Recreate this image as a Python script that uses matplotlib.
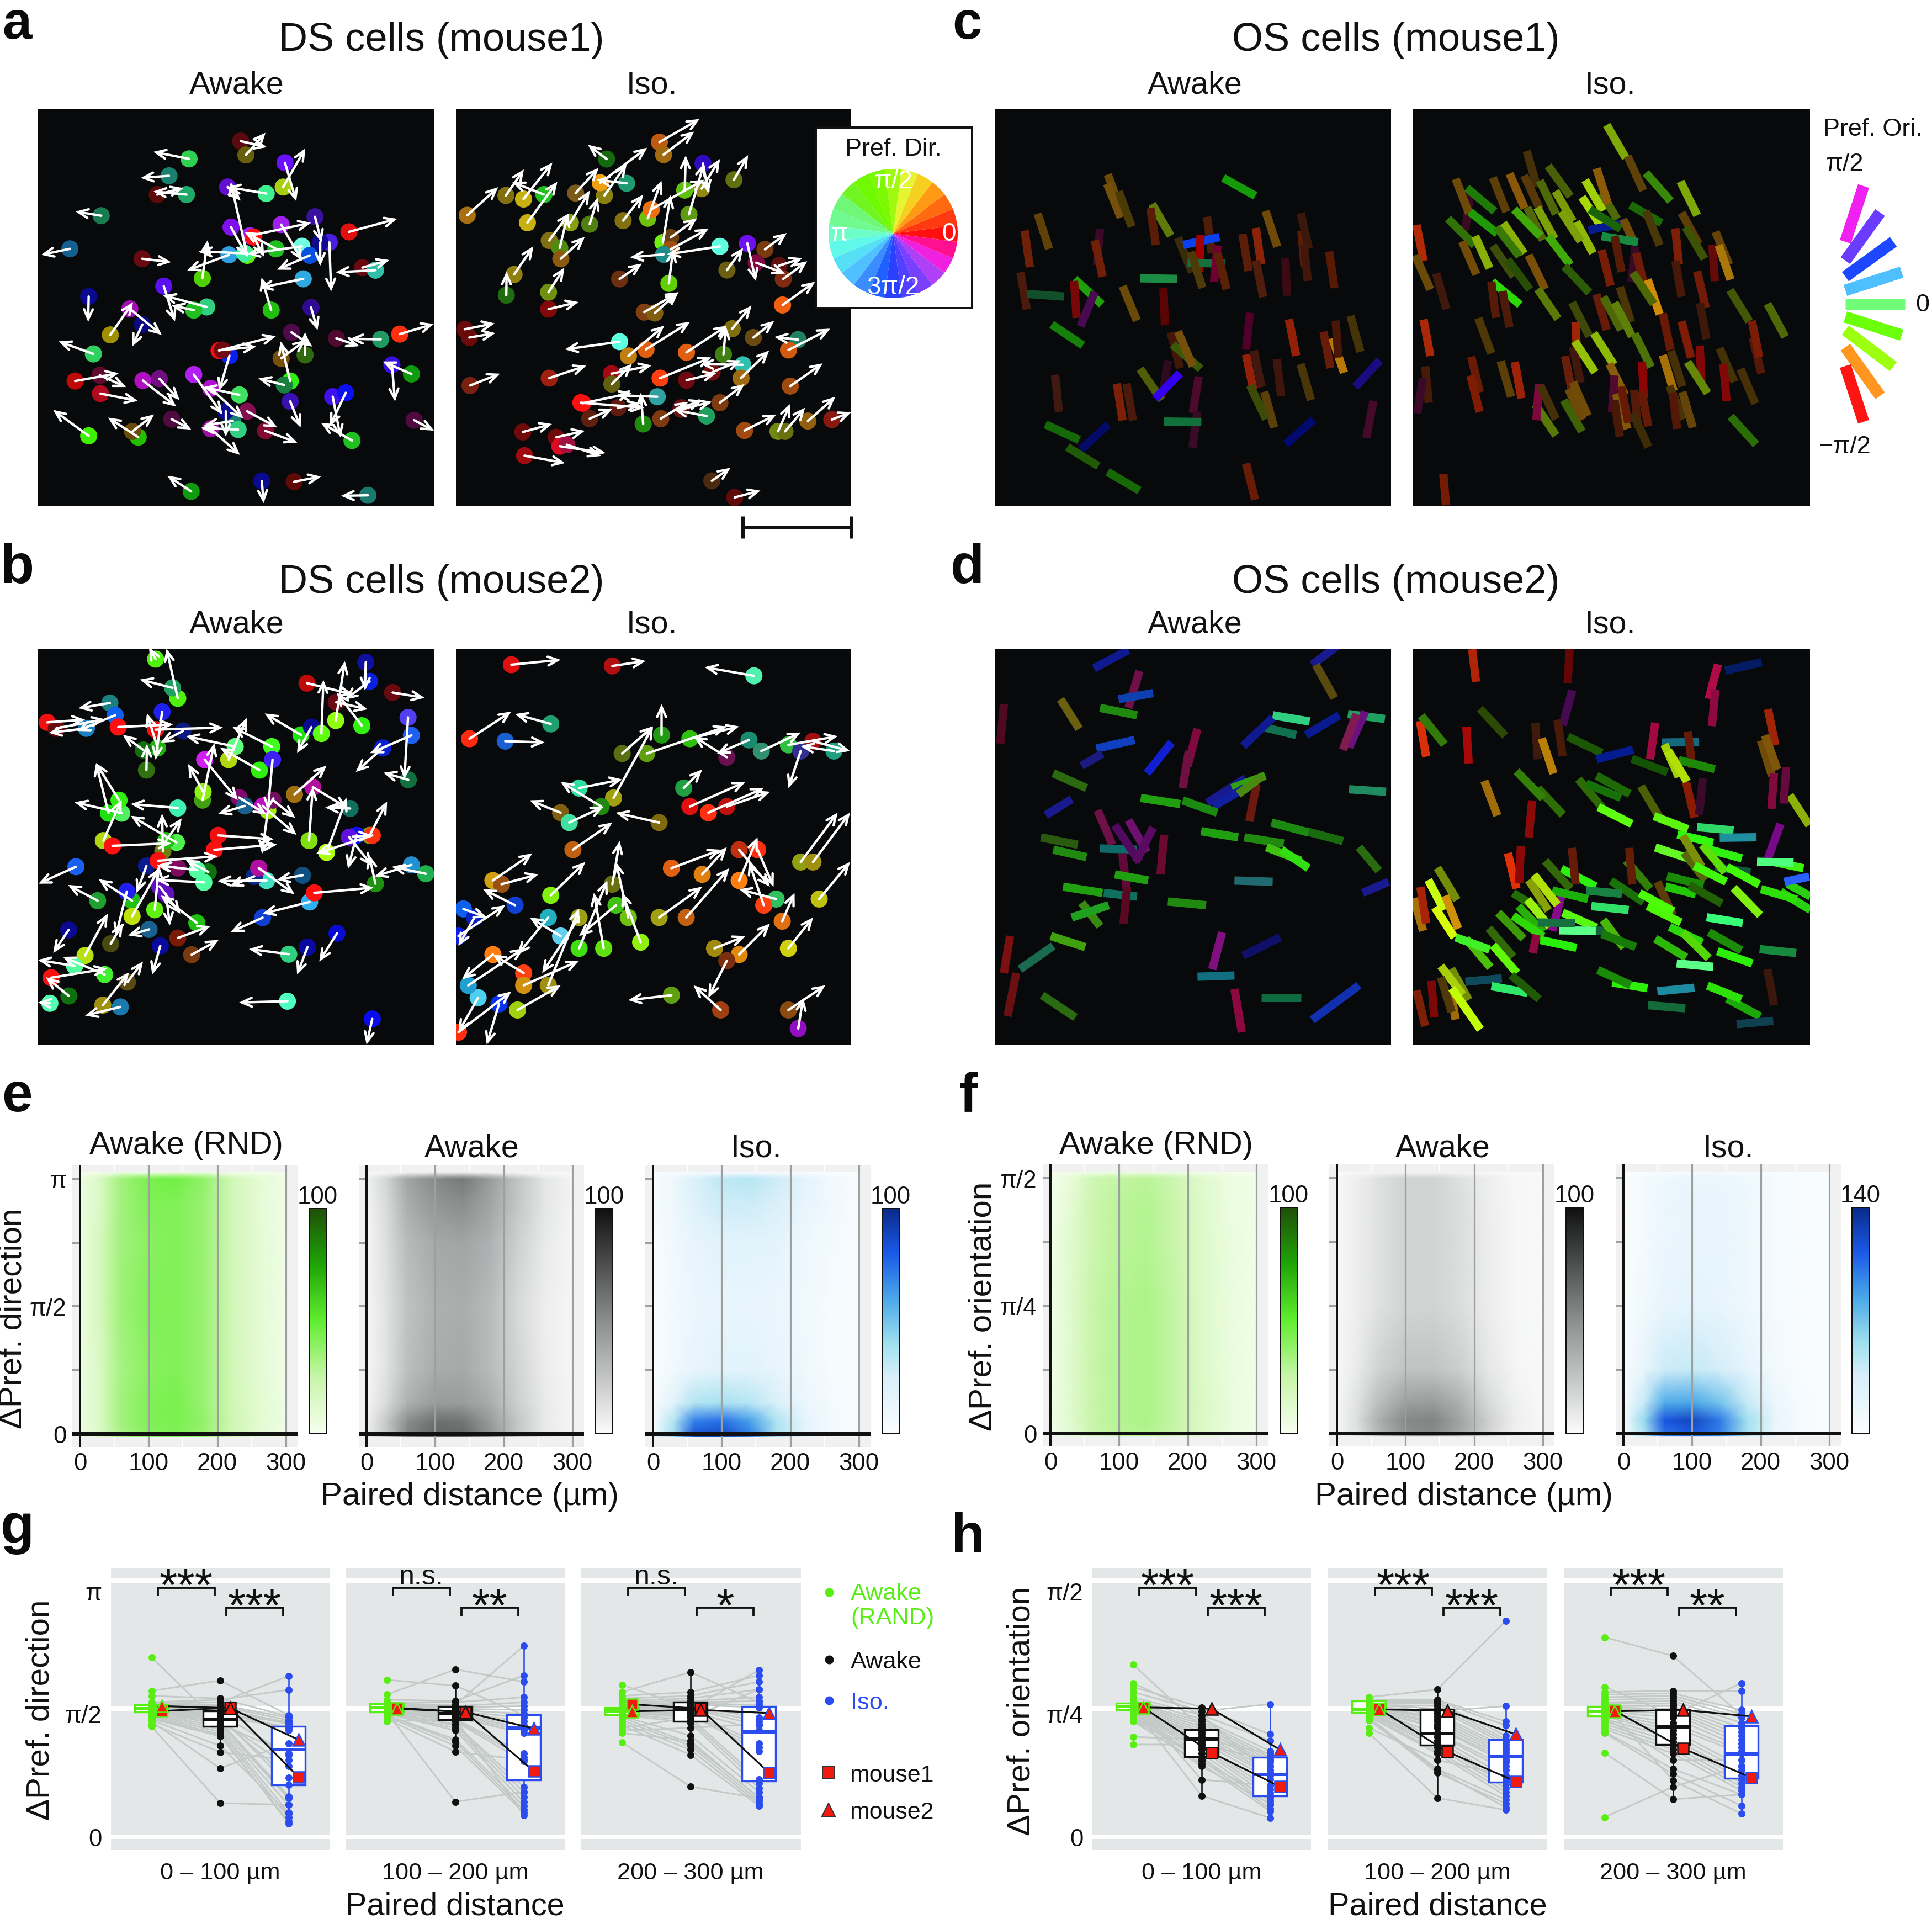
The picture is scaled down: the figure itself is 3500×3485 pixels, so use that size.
import numpy as np
import matplotlib
matplotlib.use('Agg')
import matplotlib.pyplot as plt
from matplotlib.colors import LinearSegmentedColormap
from matplotlib.patches import FancyArrowPatch, Rectangle
from matplotlib.cm import ScalarMappable
from matplotlib.colors import Normalize

plt.rcParams['font.family'] = ['Liberation Sans', 'DejaVu Sans']
W, H = 3500, 3486
DPI = 300
PX = 72 / DPI  # points per pixel

# ---------- arrows of direction-selective cells: x0, y0, x1, y1, colour ----------
A_AWAKE = [
(795,142,895,165,'#5c0a12'),(815,195,890,110,'#66600a'),(597,210,460,183,'#30d050'),(520,275,412,283,'#1a8070'),
(587,347,460,335,'#20a868'),(475,347,575,322,'#5a0a08'),(260,428,162,412,'#1a7a50'),(140,555,30,578,'#156090'),
(965,225,1008,372,'#6a10ff'),(958,318,1043,170,'#a8d010'),(893,343,745,318,'#40f090'),(745,318,795,370,'#6010d0'),
(820,580,757,300,'#60f010'),(758,472,820,585,'#8010f0'),(950,462,1030,600,'#a020f0'),(1080,432,1105,530,'#3a10a0'),
(830,505,1065,455,'#a020f0'),(930,555,810,490,'#20c020'),(1030,545,820,575,'#70ffe0'),(750,578,590,638,'#30a0e0'),
(810,572,635,565,'#40f0a0'),(845,510,885,585,'#ff1010'),(1060,580,935,635,'#0850e0'),(1135,530,1142,718,'#4a20e0'),
(1100,530,1100,620,'#100a90'),(1210,490,1395,440,'#e01010'),(1262,627,1365,598,'#6a0a10'),(1312,637,1160,645,'#30c0a8'),
(1035,670,868,705,'#30a8e0'),(912,790,875,665,'#20c010'),(417,593,528,606,'#6a0a10'),(648,668,668,522,'#50d000'),
(500,698,543,833,'#5a10f0'),(665,778,497,733,'#30d080'),(615,790,530,772,'#20c020'),(212,738,210,835,'#0a0a90'),
(295,885,382,760,'#a09000'),(370,785,492,885,'#a010b0'),(418,845,378,930,'#0a0a80'),(1065,780,1090,867,'#300a90'),
(990,875,1070,930,'#500a4a'),(1162,898,1250,928,'#500a30'),(1332,902,1215,900,'#209a60'),(1405,882,1536,843,'#ff3010'),
(230,958,97,910,'#30d060'),(160,1062,327,1032,'#c00a0a'),(255,1040,355,1085,'#600a30'),(257,1110,400,1138,'#b00a20'),
(420,1060,548,1160,'#b010c0'),(483,1053,560,1135,'#701080'),(615,1037,725,1190,'#b020f0'),(790,1115,652,1085,'#40e060'),
(680,1090,805,1205,'#b010d0'),(752,965,712,1100,'#0a20f0'),(712,945,930,890,'#f01010'),(725,943,855,930,'#700a10'),
(950,975,1045,905,'#7a5008'),(1042,962,1042,875,'#306a10'),(985,1062,948,910,'#30f010'),(962,1077,863,1052,'#1a8040'),
(985,1140,1025,1240,'#3a10b0'),(1148,1122,1178,1278,'#4010f0'),(1198,1107,1137,1235,'#0a10f0'),(1222,1290,1103,1222,'#20c020'),
(1450,1035,1340,987,'#109a10'),(1375,1000,1387,1140,'#3a10e0'),(1460,1212,1536,1252,'#500a40'),(212,1272,76,1173,'#40f000'),
(402,1277,286,1202,'#20c000'),(380,1255,463,1190,'#6a4a08'),(530,1208,605,1248,'#500a40'),(765,1215,655,1232,'#1a8070'),
(785,1248,642,1242,'#30d080'),(738,1178,738,1275,'#0a0a90'),(680,1245,792,1345,'#a010a0'),(820,1178,935,1240,'#801050'),
(890,1253,1012,1298,'#800a30'),(605,1485,514,1425,'#109a10'),(876,1445,883,1530,'#0a0a90'),(1000,1448,1103,1428,'#600a08'),
(1283,1500,1180,1502,'#1a7a70'),
]
A_ISO = [
(618,148,732,70,'#c05a10'),(630,190,717,112,'#a06a10'),(468,205,415,157,'#156a10'),(380,320,445,235,'#7a5a18'),
(72,395,160,300,'#a87010'),(182,328,233,240,'#807010'),(232,340,314,217,'#c8b010'),(290,325,200,283,'#20c020'),
(243,420,328,282,'#c8b010'),(305,480,362,388,'#807010'),(365,420,420,312,'#88a010'),(335,505,358,390,'#508a10'),
(420,425,443,335,'#508010'),(338,542,406,468,'#8a5a10'),(205,595,260,500,'#908010'),(183,665,184,585,'#206a10'),
(303,655,348,572,'#709010'),(303,712,388,688,'#800a0a'),(515,413,572,325,'#807010'),(462,328,525,222,'#8a8010'),
(450,285,583,167,'#f0a010'),(525,287,440,275,'#209a70'),(585,405,624,278,'#70c010'),(595,375,745,275,'#f07010'),
(690,310,693,193,'#60c010'),(702,392,745,220,'#609a10'),(738,305,790,205,'#908a10'),(742,220,757,320,'#300ac0'),
(830,275,870,192,'#607010'),(628,487,650,327,'#70f010'),(650,470,725,405,'#6a4010'),(650,510,758,440,'#a05010'),
(790,500,640,527,'#60ffe0'),(630,527,535,537,'#208a8a'),(645,625,657,510,'#60d000'),(505,610,568,558,'#6a3010'),
(810,580,856,505,'#6a6010'),(868,490,892,617,'#7010f0'),(918,510,980,455,'#7a3a10'),(893,555,975,592,'#800a40'),
(958,565,1024,540,'#601010'),(970,610,1038,550,'#802a10'),(968,698,1060,620,'#f06010'),(575,722,673,655,'#804010'),
(605,725,672,655,'#806010'),(65,780,150,760,'#6a0a0a'),(78,808,152,793,'#6a0a0a'),(825,778,880,700,'#807010'),
(885,808,944,752,'#6a4a10'),(1012,815,945,806,'#208060'),(985,850,1103,778,'#d05a10'),(505,822,350,848,'#60ffe0'),
(530,870,632,768,'#c08010'),(580,848,705,755,'#e06010'),(695,858,810,768,'#e06010'),(800,865,807,770,'#408010'),
(855,900,735,898,'#30c0b0'),(620,945,765,875,'#ff4010'),(695,952,780,928,'#700a10'),(768,925,850,885,'#701010'),
(850,945,930,852,'#a06a10'),(990,972,1082,895,'#a04a10'),(305,945,410,903,'#a02010'),(80,970,165,930,'#7a2010'),
(482,930,596,902,'#a00a10'),(483,965,540,897,'#606010'),(395,1028,575,1045,'#ff1010'),(400,1030,540,995,'#ff1010'),
(500,1045,565,1030,'#601a10'),(612,1008,495,1003,'#30a0a0'),(420,1082,485,1048,'#602010'),(572,1100,565,995,'#208a10'),
(622,1082,700,1025,'#803a10'),(680,1050,767,1025,'#6a2010'),(680,1045,740,1020,'#6a1010'),(790,1028,860,965,'#803a10'),
(752,1073,660,1052,'#20a060'),(860,1122,950,1068,'#a04a10'),(955,1125,990,1032,'#708a10'),(975,1125,1032,1045,'#6a7010'),
(1040,1090,1118,1008,'#906010'),(1108,1085,1163,1060,'#8a1a10'),(230,1127,313,1100,'#700a0a'),(325,1145,406,1123,'#700a0a'),
(335,1175,465,1198,'#e00a20'),(355,1170,452,1208,'#a01040'),(235,1207,350,1232,'#a00a10'),(767,1292,820,1248,'#4a2a10'),
(832,1348,905,1325,'#600a0a'),
]
B_AWAKE = [
(470,60,445,15,'#50f010'),(555,210,512,20,'#50f010'),(535,170,410,138,'#20a060'),(295,228,175,248,'#1a8080'),
(315,275,170,335,'#1060f0'),(55,302,200,292,'#f01010'),(90,325,275,290,'#6a0a10'),(205,325,62,342,'#1a80c0'),
(327,320,537,310,'#ff1010'),(495,262,470,445,'#2020f0'),(470,330,728,322,'#f01010'),(478,400,437,268,'#20b010'),
(575,335,490,380,'#0a1a80'),(423,408,345,350,'#107010'),(435,485,437,385,'#307010'),(775,395,587,355,'#60ff80'),
(915,395,765,320,'#40ff20'),(750,445,820,285,'#b0d810'),(868,485,718,400,'#30f010'),(1027,350,888,268,'#20e010'),
(1067,320,1012,420,'#0a0a90'),(1105,345,1113,140,'#60ff10'),(1160,295,1195,68,'#90ff10'),(1260,315,1165,190,'#30f010'),
(1050,152,1225,195,'#c00a0a'),(1162,225,1282,252,'#6a0a10'),(1290,145,1195,215,'#0a20e0'),(1275,72,1272,180,'#1010a0'),
(1378,188,1500,208,'#6a0a10'),(1437,283,1423,520,'#5040f0'),(1450,352,1292,420,'#2060f0'),(1340,400,1237,492,'#0a20d0'),
(1438,522,1343,495,'#107040'),(658,445,785,600,'#d020f0'),(650,600,695,382,'#40a010'),(652,568,595,462,'#90f010'),
(918,445,900,640,'#4020f0'),(1002,578,1125,468,'#a07010'),(1072,550,1205,630,'#b010a0'),(1058,755,1072,550,'#80e010'),
(1125,800,1202,592,'#b0ff10'),(1215,632,1120,628,'#107060'),(1290,735,1357,605,'#90a010'),(1300,735,1085,805,'#ff3010'),
(1225,740,1300,735,'#6010e0'),(1240,735,1207,862,'#1010f0'),(1212,742,1300,852,'#6010e0'),(900,640,878,805,'#a0f010'),
(880,622,1010,733,'#c010c0'),(790,590,895,655,'#800a70'),(812,622,710,652,'#1a6090'),(920,600,1005,668,'#701060'),
(710,735,922,750,'#f01010'),(695,790,935,770,'#ff1010'),(340,650,160,608,'#50f060'),(555,630,375,615,'#40f0b0'),
(550,762,375,660,'#50f050'),(270,755,340,598,'#b0d810'),(290,650,242,458,'#20e010'),(330,600,242,458,'#30f010'),
(498,795,495,652,'#708010'),(305,775,530,765,'#ff1010'),(510,755,570,670,'#20c010'),(165,855,22,920,'#1a60f0'),
(248,985,135,925,'#20a030'),(380,985,252,903,'#20c010'),(360,950,318,1120,'#2020f0'),(435,852,397,955,'#0a1a90'),
(480,832,708,815,'#ff1010'),(555,860,480,848,'#800a60'),(672,875,585,828,'#107010'),(655,915,470,905,'#50ffa0'),
(630,868,475,850,'#50ffa0'),(485,930,565,1035,'#6010c0'),(467,1020,483,850,'#60f010'),(380,1045,485,860,'#c0e010'),
(628,1070,490,965,'#20c010'),(510,960,525,1080,'#6010c0'),(445,1095,365,1118,'#1a6090'),(555,1128,680,1082,'#7a1a08'),
(608,1192,712,1135,'#7a3a10'),(488,1158,457,1268,'#0a0aa0'),(298,1150,345,1072,'#4a4a10'),(200,1195,287,1035,'#b8e010'),
(137,1097,78,1185,'#0a0a90'),(160,1235,20,1212,'#50ffa0'),(275,1268,115,1200,'#40f030'),(70,1280,285,1245,'#ff1010'),
(138,1350,50,1278,'#107010'),(65,1378,20,1375,'#50ffb0'),(268,1385,368,1260,'#a09010'),(362,1297,422,1218,'#5a4a10'),
(335,1392,200,1425,'#1a7ab0'),(975,1370,790,1375,'#50ffc0'),(980,1190,828,1170,'#30d080'),(1052,1163,1012,1268,'#0a0aa0'),
(1165,1110,1097,1218,'#0a0ad0'),(1300,1438,1278,1536,'#0a0af0'),(880,1050,758,1105,'#1040d0'),(1060,990,880,1035,'#30b0f0'),
(1078,955,1305,935,'#ff1010'),(1033,888,935,905,'#105080'),(895,908,708,910,'#40e0c0'),(848,892,755,930,'#0a2a90'),
(865,860,1002,960,'#b010a0'),(1312,920,1288,810,'#209010'),(1450,848,1310,892,'#2090d0'),(1505,882,1375,855,'#20b050'),
]
B_ISO = [
(415,540,455,536,'#e01010'),(497,541,524,537,'#b01010'),(612,549,572,542,'#50f0b0'),(381,600,415,578,'#ff2a10'),
(410,602,442,603,'#1a60d0'),(447,588,418,580,'#20a070'),(505,612,530,590,'#5a7010'),(498,648,530,590,'#a0a010'),
(525,612,590,590,'#60a010'),(537,597,537,572,'#209a10'),(560,600,600,590,'#30c010'),(590,615,563,598,'#6a1050'),
(608,601,582,612,'#1a8a70'),(618,610,650,595,'#309070'),(640,605,680,598,'#30c040'),(660,602,690,610,'#a01010'),
(677,610,650,606,'#20a080'),(650,610,640,640,'#303090'),(470,640,505,633,'#30e0a0'),(555,640,570,625,'#20a040'),
(560,655,605,635,'#e01010'),(590,655,625,643,'#c01010'),(488,655,455,635,'#208a10'),(455,660,430,650,'#806010'),
(462,668,490,655,'#40e0a0'),(535,668,500,660,'#806a10'),(400,715,432,693,'#d0a010'),(407,718,437,710,'#9a5010'),
(447,727,475,700,'#80f010'),(465,690,497,668,'#c06010'),(497,718,503,683,'#6a7010'),(376,738,395,745,'#1060f0'),
(385,745,372,768,'#0a20c0'),(400,775,375,795,'#ff8010'),(388,810,372,838,'#50d0f0'),(420,820,455,800,'#a0d010'),
(405,815,395,848,'#0a30f0'),(445,800,470,738,'#a09010'),(470,770,493,715,'#40e010'),(490,770,482,725,'#60e010'),
(520,765,505,725,'#90f010'),(445,745,420,775,'#20b0c0'),(535,745,570,720,'#a0a010'),(557,745,592,705,'#c06010'),
(570,710,590,688,'#e08010'),(600,715,615,680,'#ff8010'),(635,748,645,725,'#e07010'),(640,770,660,745,'#d0d010'),
(640,820,670,800,'#8a4a10'),(648,835,652,810,'#9010c0'),(585,820,563,800,'#a04010'),(545,808,510,812,'#60a010'),
(580,770,605,760,'#a08a10'),(600,775,625,750,'#e08a10'),(630,730,600,722,'#30c060'),(665,730,690,700,'#c0c010'),
(650,700,680,660,'#90a010'),(545,705,585,690,'#e06010'),(615,690,628,720,'#ff3010'),(418,735,392,722,'#1040d0'),
(425,790,400,775,'#ff4010'),(455,760,430,745,'#60d0f0'),(500,735,470,760,'#40c010'),(590,780,575,810,'#7a3010'),
(372,838,415,805,'#ff3010'),(380,800,425,770,'#20a0d0'),(372,760,410,735,'#0a20e0'),(470,745,440,790,'#a0a010'),
(510,745,500,700,'#70c010'),(575,660,620,640,'#ff3010'),(620,735,608,700,'#ff4010'),(600,690,625,720,'#c03010'),
(660,700,690,660,'#a09010'),(425,800,470,780,'#d09010'),
]
# ---------- bars of orientation-selective cells: x0, y0, x1, y1, colour ----------
C_AWAKE = [
(882,283,1006,352,'#159a0a'),(438,270,486,400,'#6b4a08'),(435,305,488,435,'#74500a'),(480,335,530,470,'#4a3a06'),
(608,383,680,505,'#5f7a08'),(602,398,623,540,'#5a1c08'),(168,420,212,555,'#5f4208'),(118,485,138,625,'#6e2008'),
(408,478,396,618,'#3a0a28'),(388,522,418,662,'#701f08'),(708,512,762,645,'#3a2c0a'),(820,432,838,572,'#4d1e08'),
(728,540,868,510,'#0a40f0'),(795,502,790,642,'#a00000'),(745,608,888,612,'#15703e'),(860,542,847,682,'#700030'),
(860,570,895,710,'#5a2008'),(758,566,802,705,'#4e3a08'),(956,498,980,640,'#5c1e08'),(1008,475,1028,615,'#8a2408'),
(1045,410,1090,547,'#6e4a08'),(1183,485,1195,625,'#5a1c06'),(1180,418,1212,555,'#3c180c'),(1192,538,1208,678,'#42160a'),
(1290,565,1310,705,'#581a04'),(1121,592,1128,735,'#3c0a14'),(1008,600,1036,740,'#501e0c'),(102,645,126,787,'#4a1a0c'),
(128,728,270,738,'#12502a'),(310,670,415,768,'#20a008'),(308,678,318,820,'#780808'),(388,720,333,852,'#480a50'),
(562,668,704,670,'#1c8c44'),(495,698,550,830,'#6a4a08'),(652,706,658,848,'#5a0404'),(222,845,342,925,'#15800a'),
(680,875,716,1012,'#441808'),(688,922,795,1015,'#3a5a08'),(708,872,765,1005,'#74500a'),(985,800,970,942,'#500028'),
(1135,825,1163,965,'#942008'),(1268,873,1295,1012,'#661c08'),(1302,897,1347,1030,'#b87808'),(1315,830,1325,972,'#4a1608'),
(1372,812,1410,950,'#443408'),(970,960,998,1095,'#942008'),(1000,945,1030,1085,'#401810'),(1088,978,1105,1120,'#3e160c'),
(1180,997,1220,1135,'#4a3608'),(1485,982,1390,1085,'#1c0a80'),(670,982,648,1122,'#2e0a20'),(562,1015,645,1135,'#505e08'),
(716,1032,620,1130,'#3400f0'),(235,1038,250,1180,'#401a0e'),(788,1045,765,1185,'#4e0a2c'),(473,1072,495,1213,'#7e2008'),
(510,1072,535,1213,'#4a1a0a'),(1040,1103,1078,1240,'#5c400a'),(985,1078,1047,1208,'#3c4c08'),(1460,1138,1433,1280,'#440a28'),
(783,1178,764,1318,'#380c24'),(655,1217,798,1219,'#12703a'),(198,1228,328,1288,'#156808'),(440,1228,335,1325,'#040a66'),
(1230,1210,1122,1305,'#020a70'),(282,1315,402,1388,'#205a06'),(437,1410,560,1482,'#186806'),(970,1378,1005,1517,'#681c08'),
]
C_ISO = [
(765,78,838,205,'#7ea808'),(845,198,905,330,'#5c4208'),(915,262,1010,370,'#38880a'),(1048,295,1112,425,'#7ea808'),
(458,178,497,315,'#46300a'),(540,235,625,352,'#4a6008'),(240,345,222,482,'#3a0a22'),(228,320,335,410,'#1f7a08'),
(185,285,237,418,'#6e4a08'),(328,280,380,412,'#5c3e08'),(392,265,450,398,'#885808'),(448,272,508,400,'#56380a'),
(508,292,570,420,'#4e6a08'),(568,332,635,448,'#7a9a08'),(745,340,805,440,'#4e6a08'),(682,290,750,408,'#a0d008'),
(726,245,770,382,'#8a5c08'),(670,355,740,462,'#a8d808'),(695,482,832,455,'#041c90'),(828,440,870,530,'#704c08'),
(700,402,818,478,'#186406'),(855,385,975,455,'#1c6a06'),(915,408,968,540,'#4a3808'),(1052,415,1118,535,'#5c3e08'),
(1068,470,1140,592,'#3e5206'),(1028,475,1042,615,'#7e2008'),(1182,488,1235,615,'#644408'),(1170,538,1180,678,'#640a08'),
(1195,540,1240,672,'#aa7808'),(240,412,345,495,'#1f9a08'),(156,438,258,540,'#327008'),(460,395,520,520,'#506808'),
(410,402,510,505,'#40a808'),(498,395,565,515,'#7ca008'),(368,455,448,572,'#88b008'),(342,470,430,582,'#387a08'),
(35,462,62,600,'#b02a08'),(260,505,315,628,'#88b008'),(210,525,265,652,'#704c08'),(328,542,408,660,'#3c4e08'),
(385,595,470,710,'#284e06'),(465,578,528,708,'#7a5008'),(648,450,712,570,'#90b808'),(590,410,665,525,'#7ca008'),
(540,505,625,615,'#40aa08'),(745,505,885,528,'#188a40'),(795,505,822,642,'#581c06'),(745,558,780,695,'#781e08'),
(875,545,860,680,'#380a28'),(878,570,912,705,'#6e1c08'),(602,620,698,722,'#2c5c06'),(30,578,88,710,'#6a4a08'),
(110,648,150,785,'#40180c'),(325,680,432,768,'#2cd808'),(322,680,340,818,'#581a08'),(365,716,392,855,'#4e1a0a'),
(500,708,578,822,'#5c7a08'),(922,672,968,805,'#d08c08'),(865,645,945,765,'#4e6808'),(725,728,765,865,'#661c08'),
(815,700,858,835,'#4a3408'),(752,738,820,865,'#4e6808'),(795,760,862,890,'#5e8008'),(632,760,698,890,'#3e4808'),
(1028,600,1052,738,'#481808'),(1112,640,1145,780,'#701c08'),(1122,762,1148,900,'#3e1808'),(1238,712,1312,832,'#425806'),
(1382,765,1450,892,'#4e6a08'),(1325,895,1358,1032,'#541808'),(1322,830,1350,970,'#7a1c08'),(62,825,88,965,'#a82808'),
(272,820,322,955,'#4e3808'),(980,802,1010,942,'#681a06'),(1052,832,1088,972,'#7e1c08'),(645,835,652,975,'#a02408'),
(715,878,792,998,'#8cb808'),(872,880,935,1008,'#4c7208'),(635,930,665,1068,'#40180c'),(642,908,720,1028,'#94c008'),
(1198,935,1255,1065,'#463008'),(1122,925,1128,1065,'#820808'),(1278,1015,1335,1148,'#463008'),(980,962,1022,1100,'#a87008'),
(1012,945,1055,1082,'#463008'),(1075,988,1152,1108,'#668808'),(1212,995,1225,1138,'#820808'),(68,1005,82,1145,'#481a08'),
(60,1050,38,1185,'#3a0a28'),(245,968,278,1105,'#681c08'),(358,985,398,1122,'#5c4008'),(412,988,438,1128,'#9c2208'),
(242,1040,277,1180,'#7e1c04'),(605,965,632,1105,'#681e08'),(775,995,835,1115,'#885c08'),(490,1150,570,1270,'#587808'),
(505,1072,495,1212,'#7c083c'),(510,1078,570,1208,'#463008'),(600,1135,670,1255,'#3e6206'),(618,1092,672,1210,'#6e4a08'),
(635,1065,692,1195,'#704c08'),(795,1040,785,1180,'#500a30'),(800,1110,845,1245,'#805808'),(900,988,908,1128,'#8c0404'),
(820,1082,848,1222,'#641a06'),(870,1095,885,1240,'#561a08'),(898,1100,925,1235,'#641a06'),(795,1135,815,1275,'#481808'),
(865,1185,925,1315,'#3e2c08'),(1005,1080,1060,1208,'#4a3208'),(1018,1105,1035,1245,'#521808'),(1055,1103,1095,1240,'#644408'),
(1240,1197,1338,1305,'#2c6e06'),(138,1418,148,1538,'#761c04'),
]
D_AWAKE = [
(916,528,888,543,'#101a90'),(1085,525,1065,540,'#1a1a90'),(1068,540,1083,567,'#5a4a10'),(925,545,916,575,'#701048'),
(815,572,812,604,'#500a20'),(861,568,876,592,'#6a6010'),(893,575,923,581,'#208a10'),(908,568,936,563,'#1040b0'),
(1033,581,1063,586,'#30d080'),(1060,597,1087,581,'#0a1a90'),(1094,580,1124,584,'#20a060'),(1108,578,1095,607,'#6a1080'),
(1101,580,1090,609,'#801a50'),(1023,590,1052,597,'#107050'),(1033,583,1009,606,'#101a90'),(890,608,921,601,'#1040c0'),
(895,612,878,622,'#1a1a80'),(951,603,931,628,'#1020d0'),(972,592,964,622,'#800a40'),(855,628,882,640,'#2c6a10'),
(1095,641,1125,643,'#208a60'),(1011,632,980,652,'#1a1a90'),(1000,640,1027,630,'#30a010'),(926,648,958,653,'#20a010'),
(870,649,849,662,'#1a1a90'),(845,680,875,686,'#2a5a10'),(891,658,903,686,'#701048'),(916,666,931,692,'#701070'),
(975,675,1005,680,'#20a010'),(1010,680,1042,685,'#208a10'),(1028,688,1056,699,'#40c010'),(1060,675,1090,683,'#1a6a10'),
(1103,688,1119,707,'#2a6a10'),(1002,715,1033,716,'#206a70'),(863,720,895,725,'#20a010'),(893,689,923,690,'#106a6a'),
(911,693,915,725,'#600a3a'),(945,678,942,710,'#6a0a30'),(878,733,893,752,'#3a8a10'),(896,725,923,728,'#107060'),
(915,720,912,750,'#5a0a20'),(948,732,979,735,'#208a10'),(992,757,984,787,'#801080'),(972,793,1002,792,'#107080'),
(1039,761,1009,776,'#10106a'),(1024,810,1056,810,'#106a40'),(1103,800,1065,828,'#1030b0'),(820,760,815,790,'#7a1010'),
(825,790,818,825,'#6a1010'),(853,760,881,769,'#40a010'),(855,768,828,787,'#1a6a50'),(846,808,873,826,'#2a6a10'),
(1008,838,1002,803,'#8a0a40'),(1127,716,1106,725,'#1a1a90'),(965,610,960,640,'#701040'),(1020,637,1014,667,'#6a1a10'),
(855,690,882,696,'#208a10'),(905,670,925,700,'#500a60'),(985,655,1010,640,'#1020a0'),(1005,645,1025,630,'#4a8a10'),
(1040,690,1062,705,'#30e010'),(870,745,900,735,'#20a020'),(905,710,932,715,'#20a010'),(922,700,936,672,'#5a0a60'),
(1032,668,1062,676,'#1c8a10'),(960,650,988,660,'#1a8a10'),
]
D_ISO = [
(248,20,263,145,'#b02408'),(622,20,614,150,'#640606'),(1190,78,1155,210,'#b00a48'),(1218,102,1358,70,'#041c66'),
(1180,175,1167,315,'#8c0a40'),(632,178,595,312,'#460a50'),(48,295,72,432,'#d83008'),(53,275,142,385,'#347a08'),
(278,248,375,352,'#2c4a06'),(226,318,235,458,'#a80808'),(490,302,500,442,'#3e1a0c'),(575,290,595,430,'#481a08'),
(515,362,560,497,'#b88008'),(615,355,745,418,'#1a5806'),(725,442,865,405,'#041c90'),(950,302,930,442,'#a00a40'),
(975,378,1118,376,'#146880'),(1075,335,1092,475,'#641c06'),(985,385,1040,510,'#a0d008'),(1040,445,1178,480,'#1c8a08'),
(1000,410,1072,528,'#b0e008'),(860,440,997,492,'#145206'),(1382,250,1410,388,'#a02408'),(1355,370,1397,505,'#704c08'),
(1370,350,1418,482,'#7e5808'),(295,525,345,658,'#a06c08'),(500,552,596,655,'#2e6e06'),(418,488,520,592,'#338008'),
(655,518,745,625,'#2e6a06'),(725,505,852,575,'#1f6a06'),(685,535,818,590,'#167208'),(895,545,968,668,'#4e5e06'),
(1068,530,1100,665,'#8a1c06'),(1132,515,1118,655,'#3a0a2c'),(1465,580,1540,695,'#8cb008'),(1405,495,1395,632,'#800a3c'),
(1452,472,1442,612,'#640a3c'),(478,600,465,742,'#8a0a0a'),(732,625,860,690,'#5cff10'),(945,660,1075,710,'#5cf510'),
(1110,702,1250,715,'#30d868'),(1035,730,1172,762,'#30f810'),(1197,743,1338,741,'#1e90a0'),(1430,690,1382,822,'#780a8a'),
(950,780,1085,825,'#64f828'),(1060,800,1142,905,'#566808'),(1055,735,1128,855,'#7a9008'),(1145,785,1282,822,'#30f010'),
(1178,855,1315,875,'#14583a'),(1100,850,1222,912,'#40f808'),(1130,770,1218,875,'#5ce008'),(1400,835,1518,860,'#40f010'),
(1340,835,1480,838,'#50ff80'),(1225,855,1348,922,'#40f808'),(1458,920,1545,968,'#28d010'),(1445,912,1540,892,'#2a60ff'),
(385,802,418,938,'#e03008'),(435,775,428,917,'#8c0808'),(590,862,722,930,'#2cf010'),(630,782,645,922,'#641c08'),
(838,830,930,938,'#338008'),(850,782,862,922,'#641e08'),(528,832,625,938,'#326808'),(115,858,190,982,'#748c08'),
(958,912,1018,1040,'#5c3c08'),(995,890,1135,925,'#1a8a06'),(780,908,905,990,'#1a7208'),(685,945,822,958,'#188040'),
(590,965,555,1100,'#880a8a'),(555,945,692,978,'#1cb008'),(465,905,540,1022,'#8aa008'),(485,885,575,1000,'#b0e008'),
(405,955,510,1020,'#246c06'),(990,930,1105,960,'#20c808'),(1080,925,1205,995,'#226006'),(1250,935,1352,1040,'#80f010'),
(1430,950,1545,1020,'#28d010'),(1355,940,1492,980,'#2ce008'),(25,975,60,1100,'#a87008'),(50,932,72,1072,'#a82408'),
(80,905,140,1020,'#c8ff10'),(145,965,195,1092,'#d09008'),(105,1010,180,1125,'#d8ff08'),(425,1005,520,1105,'#28b008'),
(460,980,545,1085,'#9cf010'),(705,1005,848,1020,'#30e068'),(595,1030,725,1088,'#58f810'),(920,1005,1048,1068,'#4cf808'),
(890,955,1020,1025,'#4cff08'),(1147,1048,1285,1070,'#38ff78'),(348,1030,445,1130,'#3c9a08'),(405,1042,520,1122,'#30d808'),
(700,1100,790,1098,'#14603a'),(582,1098,722,1100,'#5cff88'),(500,1068,642,1070,'#167040'),(750,1058,830,1165,'#48b808'),
(745,1112,875,1162,'#187a08'),(1005,1085,1130,1145,'#28d808'),(1055,1105,1155,1205,'#54d808'),(1155,1105,1280,1175,'#1c8c08'),
(950,1130,1068,1202,'#2cb808'),(495,1115,480,1185,'#8c0a40'),(510,1135,648,1165,'#28f008'),(312,1090,405,1200,'#326808'),
(225,1130,318,1240,'#4cc008'),(185,1125,315,1172,'#40f028'),(328,1155,420,1262,'#60f808'),(1188,1178,1322,1225,'#2cf008'),
(1350,1170,1490,1185,'#188a40'),(1032,1225,1172,1238,'#5cff88'),(785,1298,920,1320,'#2cf008'),(730,1250,855,1308,'#1a8a08'),
(958,1332,1100,1318,'#1e8ca0'),(1225,1360,1352,1428,'#1ca808'),(1150,1310,1280,1362,'#2ce008'),(1380,1247,1405,1385,'#3a180c'),
(922,1385,1065,1397,'#146a38'),(1262,1458,1402,1445,'#0e4050'),(222,1295,362,1282,'#0e4a5c'),(322,1312,462,1338,'#30e868'),
(398,1270,505,1362,'#1f5a06'),(168,1245,235,1365,'#748c08'),(128,1235,212,1345,'#a8d008'),(165,1330,185,1440,'#a06c08'),
(128,1278,170,1412,'#503808'),(92,1292,103,1432,'#7c0808'),(35,1328,68,1465,'#7c2008'),(170,1320,280,1478,'#c0ff08'),
]

WHEEL_COLORS = ['#ff1010','#ff3a10','#ff6a10','#ff9a15','#f5d020','#e5f530','#a0fa10','#7cf900','#70f900','#70f520','#6ff878','#70fa90',
                '#6dfdc8','#60f8e8','#55e0f5','#50c0ff','#3a8cff','#2060ff','#2a40ff','#5040ff','#7a40ff','#b040f5','#f020e0','#ff1090']
ORI_KEY = [(3343,439,3376,338,'#f020f0'),(3343,473,3406,386,'#6a3cff'),(3343,502,3430,439,'#1e48ff'),(3343,527,3445,494,'#4fc0ff'),
           (3343,552,3451,552,'#70fd78'),(3343,575,3445,608,'#6cff0a'),(3343,599,3430,665,'#9cff10'),(3343,630,3406,718,'#ff9620'),
           (3343,664,3376,765,'#ff1414')]

# ---------- pair-density grids (row = Δ fraction, column = distance) ----------
HEAT_X = [2, 30, 60, 100, 140, 180, 220, 260, 302]
HEAT_Y = [-0.01, 0.05, 0.12, 0.25, 0.5, 0.75, 0.9, 1.0, 1.025]
E_RND = [[5,14,32,40,42,36,20,10,3],[6,16,34,42,44,38,22,11,4],[6,16,34,42,44,36,21,11,4],[6,16,33,40,42,36,20,10,3],
         [6,18,35,42,42,36,20,10,4],[6,18,34,40,42,36,20,10,4],[6,16,34,42,42,36,20,9,3],[6,16,34,44,46,38,20,10,4],[1,3,5,6,7,6,3,2,1]]
E_AWK = [[6,24,54,66,66,48,24,8,2],[6,24,50,62,60,44,24,8,2],[4,16,34,44,44,36,20,8,2],[3,12,28,36,38,30,18,7,2],
         [3,12,26,34,36,30,16,6,2],[3,14,30,38,40,34,20,8,2],[4,16,36,46,50,40,24,10,3],[5,18,40,52,58,44,25,10,3],[1,2,4,6,6,4,2,1,0]]
E_ISO = [[6,40,84,88,72,38,16,6,2],[6,35,70,74,62,36,16,6,2],[4,18,35,38,34,24,12,5,2],[2,8,14,18,18,14,9,4,2],
         [2,7,12,14,14,12,8,4,2],[2,8,14,18,18,16,10,6,2],[3,10,20,28,28,24,14,8,3],[3,10,22,32,34,28,16,8,3],[1,2,3,4,4,3,2,1,1]]
F_RND = [[3,10,22,28,30,24,14,7,2],[4,12,24,30,32,26,15,8,3],[4,12,24,30,32,26,15,8,3],[4,12,24,30,32,26,14,7,3],
         [4,12,24,30,32,26,14,7,3],[4,12,22,28,30,24,14,7,3],[3,10,22,28,30,24,13,6,3],[3,8,20,26,28,22,12,6,3],[1,2,3,4,4,3,2,1,0]]
F_AWK = [[3,12,30,48,50,38,18,5,1],[3,14,34,52,54,40,20,6,1],[3,12,28,42,44,34,16,5,1],[2,8,18,26,26,20,10,3,1],
         [2,6,12,18,18,14,7,2,1],[2,6,12,18,18,14,7,2,1],[2,6,12,18,18,14,6,2,1],[2,6,12,18,18,12,6,2,1],[0,1,2,3,3,2,1,1,0]]
F_ISO = [[4,35,72,80,70,38,12,3,1],[5,42,82,88,72,40,14,4,1],[4,30,58,60,50,30,12,3,1],[3,14,28,30,26,16,7,2,1],
         [2,8,14,16,14,10,5,2,1],[2,6,12,14,14,10,5,2,1],[1,6,12,14,14,10,5,2,1],[1,5,10,13,13,9,5,2,1],[0,1,2,3,3,2,1,0,0]]

# ---------- paired cell-wise summary (units: π/2 in g, π/4 in h) ----------
G1_RAND = [1.40,1.14,1.10,1.05,1.04,1.03,1.02,1.02,1.01,1.01,1.00,1.00,1.00,.99,.99,.98,.98,.97,.97,.96,.95,.94,.93,.92,.91,.90,.88,.86]
G1_AWK  = [.88,1.22,1.08,1.07,1.05,1.03,1.02,1.00,.99,.98,.97,.96,.95,.94,.93,.92,.91,.90,.88,.86,.84,.82,.80,.785,.71,.535,.66,.263]
G1_ISO  = [.65,.95,.94,1.148,1.254,.93,.91,.89,.88,.83,.85,.64,.90,.407,.86,.46,.55,.316,.30,.248,.188,.15,.104,.12,.18,.73,.60,.25]
G2_RAND = [1.225,1.11,1.07,1.05,1.04,1.03,1.03,1.02,1.02,1.01,1.01,1.00,1.00,1.00,.99,.99,.98,.98,.97,.97,.96,.96,.95,.95,.94,.92,.90,.97]
G2_AWK  = [1.18,1.307,1.06,1.05,1.03,1.02,1.01,1.00,.99,.98,.97,.96,.95,.94,.93,.92,.91,.90,.88,.87,.85,.83,.76,.74,.71,.665,.92,.273]
G2_ISO  = [.95,1.21,1.26,1.09,1.49,1.05,1.02,.99,.96,.93,.90,.87,.85,.83,.81,.65,.62,.59,.39,.35,.31,.27,.24,.21,.19,.60,.17,.35]
G3_RAND = [1.187,1.13,1.10,1.08,1.06,1.05,1.03,1.02,1.01,1.00,1.00,.99,.99,.98,.98,.97,.97,.96,.95,.94,.93,.91,.89,.87,.85,.83,.81,.737]
G3_AWK  = [1.0,1.285,1.13,1.10,1.08,1.06,1.05,1.04,1.03,1.02,1.01,1.0,.98,.97,.96,.95,.93,.91,.89,.79,.73,.71,.68,.64,.93,.85,.75,.392]
G3_ISO  = [1.30,1.05,1.26,1.21,1.15,1.09,1.06,1.03,1.01,.93,.90,.87,.83,.73,.70,.67,.45,.42,.38,.35,.31,.28,.26,.243,1.15,.88,.30,.30]
H1_RAND = [1.345,1.20,1.17,1.13,1.09,1.07,1.05,1.04,1.03,1.02,1.01,1.00,1.00,.99,.98,.97,.96,.95,.94,.93,.92,.90,.78,.72,1.06,1.01,.97,.91]
H1_AWK  = [.85,.95,1.01,.98,.95,.92,.90,.88,.86,.84,.82,.80,.78,.76,.74,.72,.70,.68,.65,.62,.60,.57,.76,.72,.446,.32,.59,.55]
H1_ISO  = [.55,.48,.80,1.036,.75,.67,.64,.62,.60,.58,.55,.52,.50,.48,.45,.37,.34,.31,.28,.25,.22,.20,.65,.60,.40,.147,.30,.26]
H2_RAND = [1.09,1.07,1.06,1.05,1.04,1.03,1.03,1.02,1.02,1.01,1.01,1.00,1.00,.99,.99,.98,.98,.97,.97,.96,.95,.94,.93,.92,.91,.81,1.00,.85]
H2_AWK  = [1.15,1.07,1.06,1.05,1.04,1.02,1.00,.98,.96,.94,.92,.90,.88,.86,.85,.81,.78,.75,.72,.70,.67,.65,.53,.50,.52,.303,.80,.60]
H2_ISO  = [1.685,.90,.87,.79,.76,.74,.72,1.02,.70,.68,.66,.64,.62,.60,.58,.55,.47,.44,.41,.38,.35,.32,.29,.26,.23,.21,.52,.48]
H3_RAND = [1.558,1.17,1.13,1.11,1.09,1.07,1.05,1.04,1.02,1.01,1.00,.99,.98,.97,.96,.95,.94,.92,.90,.88,.86,.84,.82,.81,.657,.153,1.03,.93]
H3_AWK  = [1.412,.95,1.14,1.12,1.10,1.08,1.06,1.04,1.02,1.00,.98,.96,.93,.89,.86,.83,.80,.77,.74,.71,.68,.65,.53,.49,.293,.39,.44,.60]
H3_ISO  = [.95,1.20,1.14,.99,.96,.93,.89,.85,.82,.79,.76,.73,.70,.67,.65,.55,.52,.48,.45,.42,.39,.36,.33,.243,.33,.55,.18,.60]

# q1, median, q3 for each group of each distance bin
G_BOX = [[(.975,1.00,1.03),(.861,.914,.982),(.407,.682,.864)],
         [(.975,1.01,1.04),(.912,.96,1.018),(.446,.847,.954)],
         [(.954,.984,1.01),(.90,1.0,1.05),(.436,.82,1.016)]]
H_BOX = [[(.99,1.016,1.044),(.625,.763,.835),(.317,.488,.62)],
         [(.97,.994,1.06),(.715,.807,.994),(.428,.627,.76)],
         [(.946,.98,1.018),(.72,.859,.99),(.458,.645,.868)]]
# whisker ends (low, high)
G_WHISK = [[(.89,1.11),(.71,1.08),(.104,1.254)],[(.90,1.11),(.71,1.18),(.17,1.49)],[(.85,1.11),(.64,1.285),(.243,1.30)]]
H_WHISK = [[(.95,1.09),(.32,1.01),(.147,1.036)],[(.91,1.09),(.303,1.15),(.21,1.02)],[(.89,1.07),(.293,1.14),(.18,1.20)]]
# mouse means (mouse1 square, mouse2 triangle) for RAND, Awake, Iso.
G_M1 = [[.982,1.007,.467],[1.006,.974,.512],[1.034,1.0,.502]]
G_M2 = [[1.02,1.005,.758],[1.0,.974,.845],[.98,.99,.966]]
H_M1 = [[1.01,.657,.392],[1.0,.665,.432],[.985,.69,.462]]
H_M2 = [[1.01,1.0,.68],[.995,.984,.80],[.98,.99,.94]]
G_SIG = [['***','***'],['n.s.','**'],['n.s.','*']]
H_SIG = [['***','***'],['***','***'],['***','**']]
BIN_LABELS = ['0 – 100 µm', '100 – 200 µm', '200 – 300 µm']

GREEN, BLACK, BLUE, RED = '#58ee14', '#111111', '#2b4df0', '#f01a0e'
cm_green = LinearSegmentedColormap.from_list('g', [(0,'#f6fff0'),(.25,'#c8f5a8'),(.5,'#60ee30'),(.75,'#1fa406'),(1,'#1f5008')])
cm_gray = LinearSegmentedColormap.from_list('k', [(0,'#fbfbfb'),(.5,'#8a8f8e'),(1,'#101010')])
cm_blue = LinearSegmentedColormap.from_list('b', [(0,'#fbfdff'),(.25,'#d8effa'),(.4,'#a0e0ee'),(.6,'#4aa8e8'),(.8,'#1a5ae8'),(1,'#0a2a8a')])

fig = plt.figure(figsize=(W / DPI, H / DPI), dpi=DPI, facecolor='white')

def px_ax(x0, y0, x1, y1, **kw):
    return fig.add_axes([x0 / W, 1 - y1 / H, (x1 - x0) / W, (y1 - y0) / H], **kw)

ov = px_ax(0, 0, W, H)
ov.set_xlim(0, W); ov.set_ylim(H, 0); ov.axis('off'); ov.set_zorder(5); ov.patch.set_alpha(0)

def T(x, y, s, size, **kw):
    kw.setdefault('ha', 'center'); kw.setdefault('va', 'center')
    if kw.get('rotation') is None and kw['va'] == 'center':
        y = y + 4
    ov.text(x, y, s, fontsize=size, **kw)

def arrows_panel(box, lim, data):
    ax = px_ax(*box)
    ax.set_facecolor('#08090b')
    ax.set_xlim(lim[0], lim[1]); ax.set_ylim(lim[3], lim[2])
    ax.set_xticks([]); ax.set_yticks([])
    for s in ax.spines.values():
        s.set_visible(False)
    ax.scatter([d[0] for d in data], [d[1] for d in data], s=(31 * PX) ** 2,
               c=[d[4] for d in data], linewidths=0, zorder=2)
    for x0, y0, x1, y1, c in data:
        ax.add_patch(FancyArrowPatch((x0, y0), (x1, y1), arrowstyle='->,head_length=4.2,head_width=1.9',
                     mutation_scale=1, color='white', lw=1.05, shrinkA=0, shrinkB=0, zorder=3, joinstyle='miter'))

def bars_panel(box, lim, data):
    ax = px_ax(*box)
    ax.set_facecolor('#08090b')
    ax.set_xlim(lim[0], lim[1]); ax.set_ylim(lim[3], lim[2])
    ax.set_xticks([]); ax.set_yticks([])
    for s in ax.spines.values():
        s.set_visible(False)
    for x0, y0, x1, y1, c in data:
        ax.plot([x0, x1], [y0, y1], color=c, lw=15 * PX, solid_capstyle='butt')

YT, YB = 199, 917
YT2, YB2 = 1176, 1893
arrows_panel((69, YT, 786, YB), (18, 1536, 20, 1540), A_AWAKE)
arrows_panel((826, YT, 1542, YB), (40, 1163, 37, 1376), A_ISO)
arrows_panel((69, YT2, 786, YB2), (20, 1536, 20, 1536), B_AWAKE)
arrows_panel((826, YT2, 1542, YB2), (370, 691, 527, 848), B_ISO)
bars_panel((1803, YT, 2520, YB), (5, 1528, 20, 1540), C_AWAKE)
bars_panel((2560, YT, 3279, YB), (22, 1545, 18, 1540), C_ISO)
bars_panel((1803, YT2, 2520, YB2), (808, 1129, 527, 848), D_AWAKE)
bars_panel((2560, YT2, 3279, YB2), (22, 1543, 18, 1536), D_ISO)

# ---------- text of the image rows ----------
for (x, y, s, fs) in [(31, 70, 'a', 23), (1752, 70, 'c', 23), (31, 1056, 'b', 24), (1752, 1056, 'd', 24),
                      (31, 2013, 'e', 24), (1754, 2013, 'f', 24), (31, 2795, 'g', 24), (1754, 2812, 'h', 24)]:
    T(x, y, s, fs, fontweight='bold', color='#0a0a0a', va='baseline')
for (x, y, s) in [(800, 69, 'DS cells (mouse1)'), (2529, 69, 'OS cells (mouse1)'),
                  (800, 1051, 'DS cells (mouse2)'), (2529, 1051, 'OS cells (mouse2)')]:
    T(x, y, s, 17.3, color='#111111')
for y in (150, 1127):
    for x, s in [(429, 'Awake'), (1181, 'Iso.'), (2165, 'Awake'), (2917, 'Iso.')]:
        T(x, y, s, 13.8, color='#111111')

# scale bar
ov.plot([1345, 1542], [956, 956], color='#111111', lw=6 * PX, solid_capstyle='butt')
ov.plot([1345, 1345], [936, 976], color='#111111', lw=7 * PX, solid_capstyle='butt')
ov.plot([1542, 1542], [936, 976], color='#111111', lw=7 * PX, solid_capstyle='butt')

# direction wheel
ov.add_patch(Rectangle((1478, 232), 283, 327, facecolor='white', edgecolor='#111111', lw=4 * PX))
T(1618, 266, 'Pref. Dir.', 10.8, color='#111111')
wheel = px_ax(1618 - 117, 424 - 117, 1618 + 117, 424 + 117)
wheel.set_zorder(6); wheel.patch.set_alpha(0)
wheel.pie(np.ones(len(WHEEL_COLORS)), colors=WHEEL_COLORS, startangle=-7.5, counterclock=True, radius=1.0)
wheel.set_xlim(-1, 1); wheel.set_ylim(-1, 1); wheel.set_aspect('equal')
for x, y, s in [(0, .81, 'π/2'), (.86, 0, '0'), (-.84, 0, 'π'), (0, -.83, '3π/2')]:
    wheel.text(x, y, s, fontsize=11, color='white', ha='center', va='center')

# orientation key
for x0, y0, x1, y1, c in ORI_KEY:
    ov.plot([x0, x1], [y0, y1], color=c, lw=21 * PX, solid_capstyle='butt')
T(3303, 230, 'Pref. Ori.', 10.8, ha='left', color='#111111')
T(3307, 293, 'π/2', 10.8, ha='left', color='#111111')
T(3470, 548, '0', 10.8, ha='left', color='#111111')
T(3295, 805, '−π/2', 10.8, ha='left', color='#111111')

# ---------- heat panels ----------
def heat_panel(box, grid, cmap, title, title_x, title_y, y_labels, zero_px, top_px, bar, bar_top, bar_label):
    x0, y0, x1, y1 = box
    ax = px_ax(*box)
    ax.set_facecolor('#f0f1f0')
    span = top_px - zero_px
    ax.set_ylim((y1 - zero_px) / span, (y0 - zero_px) / span)
    k = 124.3 / 100
    ax.set_xlim(-(14 / k), (x1 - x0 - 14) / k)
    for v in (50, 150, 250):
        ax.axvline(v, color='white', lw=2 * PX, zorder=1)
    ax.pcolormesh(HEAT_X, HEAT_Y, np.array(grid, float), cmap=cmap, vmin=0, vmax=100, shading='gouraud', zorder=2, rasterized=True)
    for v in (100, 200, 300):
        ax.axvline(v, color='#9ca1a0', lw=3.2 * PX, zorder=3)
    for v in (.25, .5, .75, 1):
        ax.plot([ax.get_xlim()[0], 0], [v, v], color='#9ca1a0', lw=4 * PX, zorder=3, solid_capstyle='butt')
    ax.axhline(0, color='#111111', lw=7 * PX, zorder=5)
    ax.axvline(0, color='#111111', lw=4 * PX, zorder=5)
    for s in ax.spines.values():
        s.set_visible(False)
    ax.set_xticks([0, 100, 200, 300])
    ax.tick_params(axis='x', length=0, pad=2.2, labelsize=10.5, labelcolor='#111111')
    if y_labels:
        ax.set_yticks([0, .5, 1]); ax.set_yticklabels(y_labels)
        ax.tick_params(axis='y', length=0, pad=2.6, labelsize=10.5, labelcolor='#111111')
    else:
        ax.set_yticks([])
    T(title_x, title_y, title, 13.8, color='#111111')
    cax = px_ax(bar, bar_top, bar + 31, zero_px)
    cb = fig.colorbar(ScalarMappable(Normalize(0, 100), cmap), cax=cax, ticks=[])
    cb.outline.set_linewidth(2 * PX); cb.outline.set_edgecolor('#111111')
    T(bar + 15, bar_top - 25, bar_label, 10.5, color='#111111')

heat_panel((131, 2111, 540, 2622), E_RND, cm_green, 'Awake (RND)', 337, 2071, ['0', 'π/2', 'π'], 2598, 2136, 560, 2190, '100')
heat_panel((650, 2111, 1058, 2622), E_AWK, cm_gray, 'Awake', 855, 2076, None, 2598, 2136, 1079, 2190, '100')
heat_panel((1169, 2111, 1577, 2622), E_ISO, cm_blue, 'Iso.', 1370, 2076, None, 2598, 2136, 1598, 2190, '100')
heat_panel((1889, 2110, 2297, 2621), F_RND, cm_green, 'Awake (RND)', 2094, 2071, ['0', 'π/4', 'π/2'], 2597, 2135, 2319, 2188, '100')
heat_panel((2408, 2110, 2816, 2621), F_AWK, cm_gray, 'Awake', 2614, 2076, None, 2597, 2135, 2837, 2188, '100')
heat_panel((2927, 2110, 3335, 2621), F_ISO, cm_blue, 'Iso.', 3131, 2076, None, 2597, 2135, 3355, 2188, '140')
T(851, 2707, 'Paired distance (µm)', 14.0, color='#111111')
T(2652, 2707, 'Paired distance (µm)', 14.0, color='#111111')
T(24, 2388, 'ΔPref. direction', 14, rotation=90, color='#111111')
T(1781, 2366, 'ΔPref. orientation', 14, rotation=90, color='#111111')

# ---------- paired summaries ----------
def summary_panel(box, vals, boxes, whisk, m1, m2, sig, label, y_labels):
    x0, y0, x1, y1 = box
    ax = px_ax(*box)
    ax.set_facecolor('#e4e7e7')
    ax.set_ylim((3328 - y1) / 232, (3328 - y0) / 232)
    ax.set_xlim(0.405, 0.405 + (x1 - x0) / 124)
    for s in ax.spines.values():
        s.set_visible(False)
    for v in (0, 1, 2):
        ax.axhline(v, color='white', lw=8 * PX, zorder=1)
    xs = [1, 2, 3]
    arr = np.array(vals)
    ax.plot(xs, arr, color='#c3c9c7', lw=2.8 * PX, zorder=2)
    for i, c in enumerate((GREEN, BLACK, BLUE)):
        q1, med, q3 = boxes[i]
        stats = [dict(med=med, q1=q1, q3=q3, whislo=whisk[i][0], whishi=whisk[i][1], fliers=[])]
        ax.bxp(stats, positions=[xs[i]], widths=[.49], patch_artist=True, showcaps=False, showfliers=False, manage_ticks=False, zorder=3,
               boxprops=dict(facecolor='white', edgecolor=c, lw=3.4 * PX),
               medianprops=dict(color=c, lw=6 * PX, solid_capstyle='butt'),
               whiskerprops=dict(color=c, lw=2.6 * PX))
        ax.scatter(np.full(arr.shape[1], xs[i]), arr[i], s=(13 * PX) ** 2, color=c, linewidths=0, zorder=4)
    off = .145
    mx = [x + off for x in xs]
    ax.plot(mx, m1, color='#111111', lw=3.2 * PX, zorder=5)
    ax.plot(mx, m2, color='#111111', lw=3.2 * PX, zorder=5)
    for i, c in enumerate((GREEN, BLACK, BLUE)):
        ax.plot(mx[i], m1[i], 's', ms=20 * PX, mfc=RED, mec=c, mew=2.5 * PX, zorder=6)
        ax.plot(mx[i], m2[i], '^', ms=22 * PX, mfc=RED, mec=c, mew=2.5 * PX, zorder=7)
    for j, (a, b, top, low) in enumerate([(1.09, 1.92, 1.946, 1.886), (2.09, 2.92, 1.787, 1.727)]):
        ax.plot([a, a, b, b], [low, top, top, low], color='#111111', lw=3.8 * PX, clip_on=False, zorder=8, solid_joinstyle='miter')
        s = sig[j]
        if 'n' in s:
            ax.text((a + b) / 2, top + .03, s, fontsize=12, ha='center', va='baseline', color='#111111', zorder=8)
        else:
            ax.text((a + b) / 2, top - .10, s, fontsize=20, ha='center', va='baseline', color='#111111', zorder=8)
    ax.set_xticks([2]); ax.set_xticklabels([label])
    ax.tick_params(axis='x', length=0, pad=5, labelsize=10.4, labelcolor='#111111')
    if y_labels:
        ax.set_yticks([0, .96, 1.92]); ax.set_yticklabels(y_labels)
        ax.tick_params(axis='y', length=0, pad=4, labelsize=10.5, labelcolor='#111111')
    else:
        ax.set_yticks([])

G_VALS = [(G1_RAND, G1_AWK, G1_ISO), (G2_RAND, G2_AWK, G2_ISO), (G3_RAND, G3_AWK, G3_ISO)]
H_VALS = [(H1_RAND, H1_AWK, H1_ISO), (H2_RAND, H2_AWK, H2_ISO), (H3_RAND, H3_AWK, H3_ISO)]
G_X = [(201, 597), (627, 1023), (1053, 1451)]
H_X = [(1979, 2375), (2406, 2802), (2833, 3230)]
for i in range(3):
    summary_panel((G_X[i][0], 2841, G_X[i][1], 3352), G_VALS[i], G_BOX[i], G_WHISK[i], G_M1[i], G_M2[i], G_SIG[i], BIN_LABELS[i],
                  ['0', 'π/2', 'π'] if i == 0 else None)
    summary_panel((H_X[i][0], 2841, H_X[i][1], 3352), H_VALS[i], H_BOX[i], H_WHISK[i], H_M1[i], H_M2[i], H_SIG[i], BIN_LABELS[i],
                  ['0', 'π/4', 'π/2'] if i == 0 else None)
T(824, 3450, 'Paired distance', 13.8, color='#111111')
T(2604, 3450, 'Paired distance', 13.8, color='#111111')
T(74, 3097, 'ΔPref. direction', 14, rotation=90, color='#111111')
T(1850, 3099, 'ΔPref. orientation', 14, rotation=90, color='#111111')

# legend of panel g
ov.plot(1502, 2885, 'o', ms=16 * PX, color=GREEN, mew=0)
T(1541, 2883, 'Awake', 10.4, ha='left', color=GREEN)
T(1541, 2927, '(RAND)', 10.4, ha='left', color=GREEN)
ov.plot(1502, 3007, 'o', ms=16 * PX, color=BLACK, mew=0)
T(1541, 3007, 'Awake', 10.4, ha='left', color=BLACK)
ov.plot(1502, 3081, 'o', ms=16 * PX, color=BLUE, mew=0)
T(1541, 3081, 'Iso.', 10.4, ha='left', color=BLUE)
ov.plot(1501, 3212, 's', ms=22 * PX, mfc=RED, mec='#333333', mew=2 * PX)
T(1539, 3212, 'mouse1', 10.3, ha='left', color='#111111')
ov.plot(1501, 3279, '^', ms=24 * PX, mfc=RED, mec='#333333', mew=2 * PX)
T(1539, 3279, 'mouse2', 10.3, ha='left', color='#111111')

fig.savefig('out.png', dpi=DPI)
